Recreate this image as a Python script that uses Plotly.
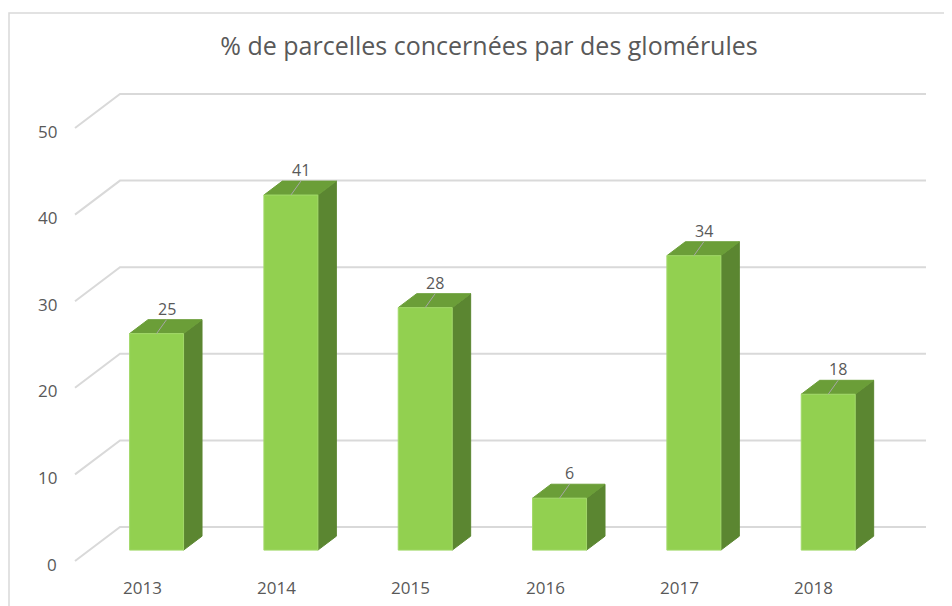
import plotly.graph_objects as go

# ---- data ----
years = ["2013", "2014", "2015", "2016", "2017", "2018"]
values = [25, 41, 28, 6, 34, 18]
ticks = [0, 10, 20, 30, 40, 50]
title = "% de parcelles concernées par des glomérules"

# ---- pseudo-3D projection settings ----
W, H = 952, 606
OFF = 8                    # page body margin
PX_PER_CAT = 134.33        # px per category on back wall
PX_PER_UNIT = 8.66         # px per value unit
X0_PX, Y0_PX = 120 - OFF, 527 - OFF   # back wall left / value 0
DX = -45 / PX_PER_CAT      # shift per depth unit (to front)
DY = -34 / PX_PER_UNIT
D_FRONT, D_BACK = 0.68, 0.27
HALF_W = 27 / PX_PER_CAT

def proj(c, v, d):
    return c + d * DX, v + d * DY

xr = [-0.5 - X0_PX / PX_PER_CAT, -0.5 + (W - X0_PX) / PX_PER_CAT]
yr = [-(H - Y0_PX) / PX_PER_UNIT, Y0_PX / PX_PER_UNIT]

GRID = "#d9d9d9"
TXT = "#595959"
FRONT = "#92d050"
TOP = "#6b9e38"
SIDE = "#5b8631"
FONT = "Open Sans"

fig = go.Figure()

# grid: left wall slant + back wall
n = len(years)
for t in ticks:
    pts = [proj(-0.5, t, 1), proj(-0.5, t, 0), proj(n - 0.5, t, 0)]
    fig.add_trace(go.Scatter(x=[p[0] for p in pts], y=[p[1] for p in pts], mode="lines",
                             line=dict(color=GRID, width=2), hoverinfo="skip", showlegend=False))

def poly(pts, color, line_color=None):
    xs = [p[0] for p in pts] + [pts[0][0]]
    ys = [p[1] for p in pts] + [pts[0][1]]
    fig.add_trace(go.Scatter(x=xs, y=ys, mode="lines", fill="toself", fillcolor=color,
                             line=dict(color=line_color or color, width=1),
                             hoverinfo="skip", showlegend=False))

for i, v in enumerate(values):
    c = i
    # side face
    poly([proj(c + HALF_W, 0, D_FRONT), proj(c + HALF_W, v, D_FRONT),
          proj(c + HALF_W, v, D_BACK), proj(c + HALF_W, 0, D_BACK)], SIDE)
    # top face
    poly([proj(c - HALF_W, v, D_FRONT), proj(c + HALF_W, v, D_FRONT),
          proj(c + HALF_W, v, D_BACK), proj(c - HALF_W, v, D_BACK)], TOP)
    # front face
    poly([proj(c - HALF_W, 0, D_FRONT), proj(c + HALF_W, 0, D_FRONT),
          proj(c + HALF_W, v, D_FRONT), proj(c - HALF_W, v, D_FRONT)], FRONT, "#a3d96a")
    # leader line
    x1, y1 = proj(c, v, D_FRONT)
    fig.add_trace(go.Scatter(x=[x1, x1 + 10 / PX_PER_CAT], y=[y1, y1 + 14 / PX_PER_UNIT],
                             mode="lines", line=dict(color="#a6a6a6", width=1),
                             hoverinfo="skip", showlegend=False))

annotations = []
for t in ticks:
    x, y = proj(-0.5, t, 1)
    annotations.append(dict(x=x, y=y, text=str(t), showarrow=False, xanchor="right",
                            xshift=-16, yshift=-3, font=dict(family=FONT, size=17, color=TXT)))
for i, yl in enumerate(years):
    x, y = proj(i, 0, 1)
    annotations.append(dict(x=x, y=y, text=yl, showarrow=False, yshift=-26,
                            font=dict(family=FONT, size=17, color=TXT)))
for i, v in enumerate(values):
    x, y = proj(i, v, D_FRONT)
    annotations.append(dict(x=x + 10 / PX_PER_CAT, y=y + 14 / PX_PER_UNIT, text=str(v),
                            showarrow=False, yanchor="bottom", yshift=-2,
                            font=dict(family=FONT, size=16, color=TXT)))

fig.update_layout(
    width=W, height=H, autosize=False,
    margin=dict(l=0, r=0, t=0, b=0),
    paper_bgcolor="white", plot_bgcolor="white",
    xaxis=dict(range=xr, visible=False, fixedrange=True),
    yaxis=dict(range=yr, visible=False, fixedrange=True),
    annotations=annotations,
    title=dict(text=title, x=(489 - OFF) / W, xanchor="center", y=1 - (46 - OFF) / H,
               yanchor="middle", font=dict(family=FONT, size=25, color=TXT)),
    shapes=[dict(type="rect", xref="paper", yref="paper", x0=(9 - OFF) / W, x1=1.01,
                 y0=-0.01, y1=1 - (13 - OFF) / H, line=dict(color=GRID, width=1.5),
                 layer="below")],
    showlegend=False,
)

fig.write_html("out.html")
